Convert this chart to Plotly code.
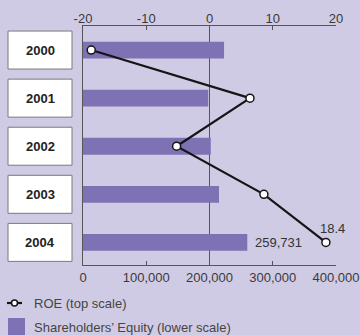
import plotly.graph_objects as go

# ---- data ----
years = ["2000", "2001", "2002", "2003", "2004"]
equity = [223000, 198000, 202000, 215000, 259731]          # lower scale
roe = [-18.7, 6.4, -5.2, 8.6, 18.4]                        # top scale
equity_ticks = [0, 100000, 200000, 300000, 400000]
equity_tick_labels = ["0", "100,000", "200,000", "300,000", "400,000"]
roe_ticks = [-20, -10, 0, 10, 20]
roe_tick_labels = ["-20", "-10", "0", "10", "20"]
legend_labels = ["ROE (top scale)", "Shareholders\u2019 Equity (lower scale)"]

# ---- layout geometry (pixels) ----
W, H = 360, 335
L, R, T, B = 83, 336, 26, 265
BG = "#d0cbe4"
BAR = "#7e72b5"
FONT = "Liberation Sans, Arial, sans-serif"


def px(x):
    return (x - L) / (R - L)


def py(y):
    return (B - y) / (B - T)


fig = go.Figure()

fig.add_trace(go.Bar(
    x=equity, y=years, orientation="h", marker=dict(color=BAR, line=dict(width=0)),
    width=0.35, xaxis="x", yaxis="y", showlegend=False, hoverinfo="skip"))

fig.add_trace(go.Scatter(
    x=roe, y=years, mode="lines+markers", xaxis="x2", yaxis="y",
    line=dict(color="#151515", width=2.2),
    marker=dict(size=8, color="white", line=dict(color="#151515", width=1.5)),
    showlegend=False, hoverinfo="skip", cliponaxis=False))

shapes = []
annotations = []

# zero line of top scale
shapes.append(dict(type="line", xref="x2", yref="paper", x0=0, x1=0, y0=0, y1=1,
                   line=dict(color="#555555", width=1), layer="below"))

# year boxes
for i, yr in enumerate(years):
    shapes.append(dict(type="rect", xref="paper", yref="y", x0=px(8), x1=px(72),
                       y0=i - 0.395, y1=i + 0.395, fillcolor="white",
                       line=dict(color="#7a7a7a", width=1)))
    annotations.append(dict(xref="paper", yref="y", x=px(40), y=i, text="<b>%s</b>" % yr,
                            showarrow=False, font=dict(family=FONT, size=13, color="#222222"),
                            xanchor="center", yanchor="middle"))

# value labels
annotations.append(dict(xref="x", yref="y", x=equity[-1], y=len(years) - 1,
                        text="{:,}".format(equity[-1]), showarrow=False, xanchor="left",
                        xshift=6, yanchor="middle",
                        font=dict(family=FONT, size=13, color="#333333")))
annotations.append(dict(xref="x2", yref="y", x=roe[-1], y=len(years) - 1,
                        text="%.1f" % roe[-1], showarrow=False, xanchor="center",
                        xshift=7, yshift=14, yanchor="middle",
                        font=dict(family=FONT, size=13, color="#333333")))

# legend (manual)
shapes.append(dict(type="line", xref="paper", yref="paper", x0=px(7), x1=px(22),
                   y0=py(303), y1=py(303), line=dict(color="#151515", width=2.2)))
shapes.append(dict(type="circle", xref="paper", yref="paper", x0=px(11.5), x1=px(17.5),
                   y0=py(300), y1=py(306), fillcolor="white",
                   line=dict(color="#151515", width=1.5)))
shapes.append(dict(type="rect", xref="paper", yref="paper", x0=px(8), x1=px(25),
                   y0=py(318), y1=py(336), fillcolor=BAR, line=dict(width=0)))
annotations.append(dict(xref="paper", yref="paper", x=px(32), y=py(303),
                        text=legend_labels[0], showarrow=False, xanchor="left",
                        yanchor="middle", font=dict(family=FONT, size=13, color="#444444")))
annotations.append(dict(xref="paper", yref="paper", x=px(32), y=py(327),
                        text=legend_labels[1], showarrow=False, xanchor="left",
                        yanchor="middle", font=dict(family=FONT, size=13, color="#444444")))

axis_common = dict(showgrid=False, zeroline=False, showline=True, linecolor="#555555",
                   linewidth=1, ticks="inside", ticklen=4, tickcolor="#555555",
                   automargin=False,
                   tickfont=dict(family=FONT, size=13, color="#3a3a3a"))

fig.update_layout(
    width=W, height=H, autosize=False,
    margin=dict(l=L, r=W - R, t=T, b=H - B, pad=0, autoexpand=False),
    paper_bgcolor=BG, plot_bgcolor=BG,
    xaxis=dict(range=[0, 400000], tickvals=equity_ticks, ticktext=equity_tick_labels,
               side="bottom", **axis_common),
    xaxis2=dict(range=[-20, 20], tickvals=roe_ticks, ticktext=roe_tick_labels,
                overlaying="x", side="top", ticklabelstandoff=-3, **axis_common),
    yaxis=dict(type="category", categoryarray=years, range=[4.47, -0.5],
               showticklabels=False, showgrid=False, zeroline=False, showline=True,
               linecolor="#555555", linewidth=1, ticks="", automargin=False),
    shapes=shapes, annotations=annotations, bargap=0.3,
)

fig.write_html("out.html", config={"displayModeBar": False})
